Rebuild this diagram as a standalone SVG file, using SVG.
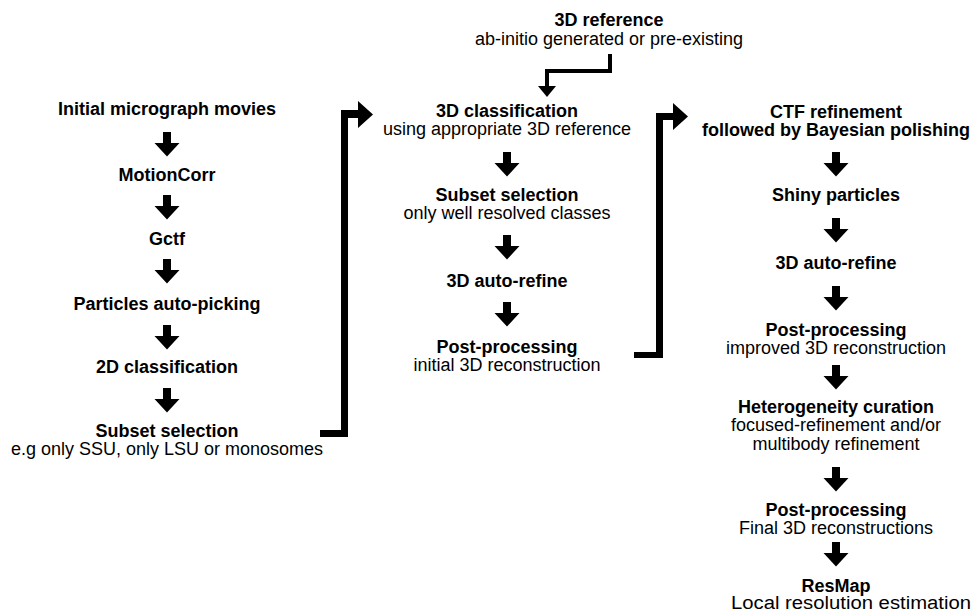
<svg xmlns="http://www.w3.org/2000/svg" xmlns:xlink="http://www.w3.org/1999/xlink" width="974" height="612" viewBox="0 0 974 612">
<style>
text{font-family:"Liberation Sans",Arial,Helvetica,sans-serif;font-size:18px;fill:#000;text-anchor:middle}
.b{font-weight:bold}
.conn{fill:#000;stroke:none}
</style>
<defs>
<path id="dn" d="M-4,0H4V11H12.5L0,24.5L-12.5,11H-4Z" fill="#000"/>
</defs>
<rect width="974" height="612" fill="#fff"/>

<!-- Left column -->
<g id="n-movies"><text class="b" x="167" y="115">Initial micrograph movies</text></g>
<g id="n-motioncorr"><text class="b" x="167" y="181">MotionCorr</text></g>
<g id="n-gctf"><text class="b" x="167" y="245">Gctf</text></g>
<g id="n-autopick"><text class="b" x="167" y="310">Particles auto-picking</text></g>
<g id="n-2dclass"><text class="b" x="167" y="373">2D classification</text></g>
<g id="n-subset1"><text class="b" x="167" y="437">Subset selection</text><text x="167" y="455">e.g only SSU, only LSU or monosomes</text></g>

<!-- Middle column -->
<g id="n-3dref"><text class="b" x="609" y="26">3D reference</text><text x="609" y="45">ab-initio generated or pre-existing</text></g>
<g id="n-3dclass"><text class="b" x="507" y="117">3D classification</text><text x="507" y="135">using appropriate 3D reference</text></g>
<g id="n-subset2"><text class="b" x="507" y="201">Subset selection</text><text x="507" y="219">only well resolved classes</text></g>
<g id="n-autorefine1"><text class="b" x="507" y="287">3D auto-refine</text></g>
<g id="n-post1"><text class="b" x="507" y="353">Post-processing</text><text x="507" y="371">initial 3D reconstruction</text></g>

<!-- Right column -->
<g id="n-ctf"><text class="b" x="836" y="118">CTF refinement</text><text class="b" x="836" y="136">followed by Bayesian polishing</text></g>
<g id="n-shiny"><text class="b" x="836" y="201">Shiny particles</text></g>
<g id="n-autorefine2"><text class="b" x="836" y="269">3D auto-refine</text></g>
<g id="n-post2"><text class="b" x="836" y="336">Post-processing</text><text x="836" y="354">improved 3D reconstruction</text></g>
<g id="n-hetero"><text class="b" x="836" y="413">Heterogeneity curation</text><text x="836" y="431">focused-refinement and/or</text><text x="836" y="450">multibody refinement</text></g>
<g id="n-post3"><text class="b" x="836" y="516">Post-processing</text><text x="836" y="534">Final 3D reconstructions</text></g>
<g id="n-resmap"><text class="b" x="836" y="592">ResMap</text><text x="731" y="609" style="text-anchor:start" textLength="240" lengthAdjust="spacingAndGlyphs">Local resolution estimation</text></g>

<!-- Connectors -->
<g id="connectors">
<use href="#dn" xlink:href="#dn" x="167" y="132"/>
<use href="#dn" xlink:href="#dn" x="167" y="195"/>
<use href="#dn" xlink:href="#dn" x="167" y="259"/>
<use href="#dn" xlink:href="#dn" x="167" y="325"/>
<use href="#dn" xlink:href="#dn" x="167" y="388"/>

<use href="#dn" xlink:href="#dn" x="507" y="152"/>
<use href="#dn" xlink:href="#dn" x="507" y="235"/>
<use href="#dn" xlink:href="#dn" x="507" y="302"/>

<use href="#dn" xlink:href="#dn" x="836" y="152"/>
<use href="#dn" xlink:href="#dn" x="836" y="218"/>
<use href="#dn" xlink:href="#dn" x="836" y="286"/>
<use href="#dn" xlink:href="#dn" x="836" y="365"/>
<use href="#dn" xlink:href="#dn" x="836" y="467"/>
<use href="#dn" xlink:href="#dn" x="836" y="542"/>

<path class="conn" d="M320,437H348V118H358V128L373,114.5L358,101V110H341V430H320Z"/>
<path class="conn" d="M634,358H663V120H673V130L688,116.5L673,103V113H656V352H634Z"/>
<path d="M610,54V71H547V87" fill="none" stroke="#000" stroke-width="4" stroke-linejoin="miter"/>
<path class="conn" d="M538,86H556L547,97Z"/>
</g>
</svg>
